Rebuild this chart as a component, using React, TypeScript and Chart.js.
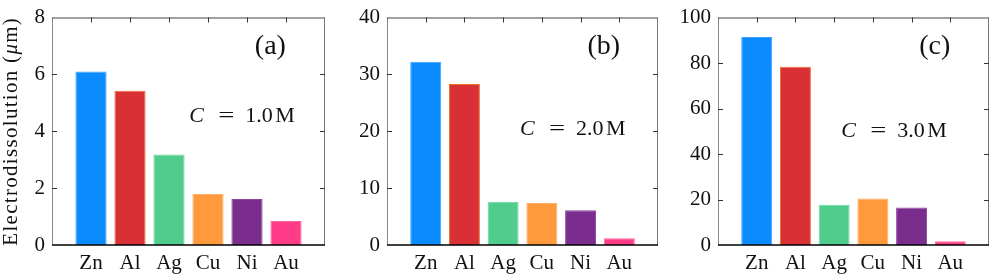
import React, { useEffect, useRef } from 'react';
import { Chart, registerables } from 'chart.js';

Chart.register(...registerables);

// ---- data ----
const metals = ['Zn', 'Al', 'Ag', 'Cu', 'Ni', 'Au'];
const barColors = ['#0a8cff', '#d93036', '#50cc8c', '#ff9a3c', '#7b2d8e', '#ff3c88'];
const barBorders = ['#3aa2ff', '#e8722b', '#6fd6a2', '#ffae63', '#8f47a1', '#ff62a0'];
const valuesA = [6.1, 5.42, 3.18, 1.79, 1.62, 0.84];
const valuesB = [32.2, 28.3, 7.6, 7.4, 6.1, 1.2];
const valuesC = [91.4, 78.3, 17.7, 20.4, 16.5, 1.7];
const concentrations = ['1.0', '2.0', '3.0'];
const panelTags = ['(a)', '(b)', '(c)'];
const yMaxes = [8, 40, 100];
const ySteps = [2, 10, 20];
const yTitle = 'Electrodissolution';

const FONT = "'Liberation Serif', 'Times New Roman', serif";
const H = 276;

type Panel = {
  values: number[];
  conc: string;
  tag: string;
  yMax: number;
  yStep: number;
  pageLeft: number;
  width: number;
  areaLeft: number;
  areaRight: number;
  concPos: [number, number]; // fraction of chart area (start x, centre y)
  showTitle: boolean;
};

const panels: Panel[] = [
  { values: valuesA, conc: concentrations[0], tag: panelTags[0], yMax: yMaxes[0], yStep: ySteps[0],
    pageLeft: 0, width: 336, areaLeft: 52, areaRight: 325, concPos: [0.503, 0.435], showTitle: true },
  { values: valuesB, conc: concentrations[1], tag: panelTags[1], yMax: yMaxes[1], yStep: ySteps[1],
    pageLeft: 336, width: 330, areaLeft: 51, areaRight: 326, concPos: [0.491, 0.49], showTitle: false },
  { values: valuesC, conc: concentrations[2], tag: panelTags[2], yMax: yMaxes[2], yStep: ySteps[2],
    pageLeft: 666, width: 331, areaLeft: 52, areaRight: 326, concPos: [0.455, 0.498], showTitle: false },
];

function makeFramePlugin(p: Panel) {
  return {
    id: 'frame',
    afterDatasetsDraw(chart: any) {
      const { ctx, chartArea: a, scales } = chart;
      const L = a.left, R = a.right, T = a.top, B = a.bottom;
      ctx.save();
      ctx.lineCap = 'butt';
      const line = (x1: number, y1: number, x2: number, y2: number, c: string, w: number) => {
        ctx.beginPath();
        ctx.strokeStyle = c;
        ctx.lineWidth = w;
        ctx.moveTo(x1, y1);
        ctx.lineTo(x2, y2);
        ctx.stroke();
      };
      line(L + 0.5, T, L + 0.5, B, '#8a8a8a', 1);
      line(L, T + 0.5, R, T + 0.5, '#444', 1);
      line(R - 0.5, T, R - 0.5, B, '#777', 1);
      const y = scales.y;
      y.ticks.forEach((t: any) => {
        const py = Math.round(y.getPixelForValue(t.value)) + 0.5;
        if (py <= T + 1 || py >= B - 1) return;
        line(L, py, L + 5, py, '#333', 1);
        line(R - 5, py, R, py, '#333', 1);
      });
      const x = scales.x;
      for (let i = 1; i <= metals.length; i++) {
        const px = Math.round(x.getPixelForValue(i)) + 0.5;
        line(px, T, px, T + 5, '#333', 1);
      }
      line(L, B, R, B, '#000', 1.5);

      // panel tag
      ctx.fillStyle = '#111';
      ctx.textAlign = 'center';
      ctx.textBaseline = 'middle';
      ctx.font = `28px ${FONT}`;
      ctx.fillText(p.tag, L + (R - L) * 0.80, T + (B - T) * 0.13);

      // concentration
      const sx = L + (R - L) * p.concPos[0];
      const sy = T + (B - T) * p.concPos[1];
      ctx.textAlign = 'left';
      ctx.textBaseline = 'middle';
      ctx.font = `italic 22px ${FONT}`;
      ctx.fillText('C', sx, sy);
      ctx.font = `22px ${FONT}`;
      ctx.save();
      ctx.translate(sx + 37, sy);
      ctx.scale(1.3, 1);
      ctx.textAlign = 'center';
      ctx.fillText('=', 0, 0);
      ctx.restore();
      ctx.fillText(p.conc, sx + 56, sy);
      ctx.fillText('M', sx + 86, sy);

      // y title
      if (p.showTitle) {
        ctx.save();
        ctx.translate(17, (T + B) / 2);
        ctx.rotate(-Math.PI / 2);
        ctx.textBaseline = 'alphabetic';
        ctx.textAlign = 'left';
        (ctx as any).letterSpacing = '1.3px';
        const parts: [string, string][] = [
          [`21px ${FONT}`, yTitle + ' ('],
          [`italic 21px ${FONT}`, '\u03bc'],
          [`21px ${FONT}`, 'm)'],
        ];
        let total = 0;
        parts.forEach(([f, s]) => { ctx.font = f; total += ctx.measureText(s).width; });
        let cx = -total / 2;
        parts.forEach(([f, s]) => {
          ctx.font = f;
          ctx.fillText(s, cx, 0);
          cx += ctx.measureText(s).width;
        });
        ctx.restore();
      }
      ctx.restore();
    },
  };
}

function PanelChart({ p }: { p: Panel }) {
  const ref = useRef<HTMLCanvasElement | null>(null);
  useEffect(() => {
    if (!ref.current) return;
    const labels = ['', ...metals, ''];
    const data = [null, ...p.values, null];
    const chart = new Chart(ref.current, {
      type: 'bar',
      data: {
        labels,
        datasets: [{
          data,
          backgroundColor: ['transparent', ...barColors, 'transparent'],
          borderColor: ['transparent', ...barBorders, 'transparent'],
          borderWidth: 1,
          borderSkipped: 'bottom',
          barPercentage: 0.8,
          categoryPercentage: 1,
        }],
      },
      options: {
        responsive: false,
        animation: false,
        events: [],
        layout: { padding: { top: 10, bottom: 0, left: 0, right: p.width - p.areaRight } },
        plugins: { legend: { display: false }, tooltip: { enabled: false }, title: { display: false } },
        scales: {
          x: {
            type: 'category',
            offset: false,
            grid: { display: false, drawTicks: false },
            border: { display: false },
            ticks: {
              autoSkip: false,
              maxRotation: 0,
              minRotation: 0,
              padding: 8,
              color: '#111',
              font: { family: FONT, size: 21, lineHeight: 1 },
            },
            afterFit: (s: any) => { s.height = H - 245; },
          },
          y: {
            min: 0,
            max: p.yMax,
            grid: { display: false, drawTicks: false },
            border: { display: false },
            ticks: {
              stepSize: p.yStep,
              padding: 7,
              color: '#111',
              font: { family: FONT, size: 21, lineHeight: 1 },
            },
            afterFit: (s: any) => { s.width = p.areaLeft; },
          },
        },
      },
      plugins: [makeFramePlugin(p)],
    });
    return () => chart.destroy();
  }, [p]);
  return (
    <canvas
      ref={ref}
      width={p.width}
      height={H}
      style={{ position: 'absolute', left: p.pageLeft, top: 0, width: p.width, height: H }}
    />
  );
}

export default function App() {
  return (
    <div style={{ position: 'fixed', left: 0, top: 0, width: 997, height: H, background: '#fff', overflow: 'hidden' }}>
      {panels.map((p, i) => <PanelChart key={i} p={p} />)}
    </div>
  );
}
